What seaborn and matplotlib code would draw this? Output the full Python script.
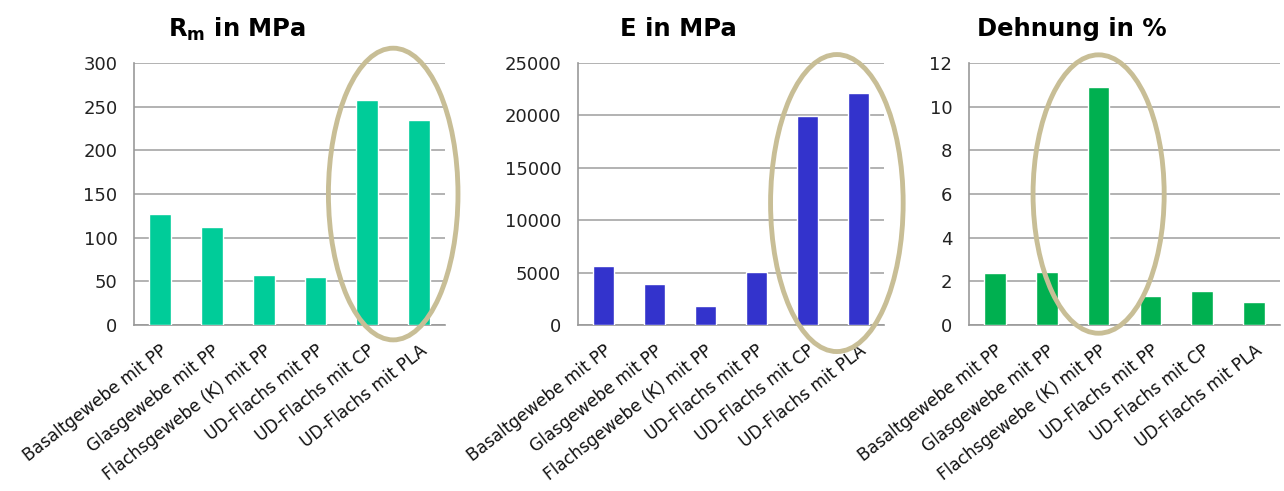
import numpy as np
import pandas as pd
import matplotlib
matplotlib.use("Agg")
import matplotlib.pyplot as plt
from matplotlib.patches import Ellipse
import seaborn as sns

# Data
materials = ["Basaltgewebe mit PP", "Glasgewebe mit PP", "Flachsgewebe (K) mit PP",
             "UD-Flachs mit PP", "UD-Flachs mit CP", "UD-Flachs mit PLA"]
rm_mpa = [127, 112, 57, 55, 258, 235]
e_mpa = [5620, 3880, 1810, 5080, 19900, 22100]
dehnung = [2.40, 2.44, 10.9, 1.33, 1.56, 1.07]

titles = [r"$\mathbf{R_m}$ in MPa", "E in MPa", "Dehnung in %"]
colors = ["#00CC99", "#3333CC", "#00B050"]
yticks = [np.arange(0, 301, 50), np.arange(0, 25001, 5000), np.arange(0, 13, 2)]
ylims = [300, 25000, 12]

# highlight ellipses: (x centre, y centre, width, height) in data units
ellipses = [(4.5, 150, 2.5, 334), (4.58, 11640, 2.6, 28340), (2.0, 6.0, 2.53, 12.75)]

sns.set_style("white")
plt.rcParams["font.family"] = ["DejaVu Sans"]

fig = plt.figure(figsize=(12.84, 4.91), dpi=100)
boxes = [[0.1044, 0.338, 0.2422, 0.5336],
         [0.4500, 0.338, 0.2383, 0.5336],
         [0.7547, 0.338, 0.2422, 0.5336]]

for i, vals in enumerate([rm_mpa, e_mpa, dehnung]):
    ax = fig.add_axes(boxes[i])
    df = pd.DataFrame({"Material": materials, "Wert": vals})
    sns.barplot(data=df, x="Material", y="Wert", color=colors[i], width=0.42,
                saturation=1, ax=ax, zorder=3)
    ax.set_xlim(-0.5, 5.5)
    ax.set_ylim(0, ylims[i])
    ax.set_yticks(yticks[i])
    ax.set_xlabel("")
    ax.set_ylabel("")
    ax.yaxis.grid(True, color="#A6A6A6", linewidth=1.2, zorder=0)
    ax.set_axisbelow(True)
    for s in ["top", "right"]:
        ax.spines[s].set_visible(False)
    for s in ["left", "bottom"]:
        ax.spines[s].set_color("#999999")
        ax.spines[s].set_linewidth(1.2)
    ax.tick_params(axis="y", length=5, color="#999999", labelsize=13,
                   labelcolor="#222222", pad=7)
    ax.set_xticks(np.arange(-0.5, 6, 1), minor=True)
    ax.tick_params(axis="x", which="minor", length=5, color="#999999", direction="out")
    ax.tick_params(axis="x", which="major", length=0, labelsize=12.2, pad=12,
                   labelcolor="#111111")
    ax.set_xticklabels(materials, rotation=38, ha="right", va="top",
                       rotation_mode="anchor")
    ax.set_title(titles[i], fontsize=17.5, fontweight="bold", color="black",
                 x=0.33, y=1.07)

    cx, cy, w, h = ellipses[i]
    ax.add_patch(Ellipse((cx, cy), w, h, fill=False, edgecolor="#C8BE96",
                         linewidth=3.5, clip_on=False, zorder=5))

plt.savefig("out.png", dpi=100)
